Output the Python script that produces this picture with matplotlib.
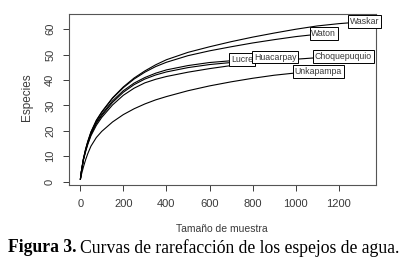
import matplotlib
matplotlib.use("Agg")
import matplotlib.pyplot as plt

# rarefaction curves: sample size vs species
waskar_n = [1, 5, 10, 15, 25, 35, 50, 75, 100, 150, 200, 250, 300, 350, 400, 500, 600, 700, 800, 900, 1000, 1100, 1200, 1320]
waskar_s = [1, 3.8, 6.5, 9.0, 12.8, 15.8, 19.6, 24.2, 27.5, 33.0, 37.3, 40.8, 43.6, 46.0, 48.0, 50.9, 53.1, 55.1, 56.9, 58.5, 60.0, 61.3, 62.2, 63.0]

waton_n = [1, 5, 10, 15, 25, 35, 50, 75, 100, 150, 200, 250, 300, 350, 400, 500, 600, 700, 800, 900, 1000, 1130]
waton_s = [1, 3.8, 6.5, 9.0, 12.7, 15.7, 19.5, 24.0, 27.3, 32.8, 37.0, 40.4, 43.1, 45.3, 47.0, 49.6, 51.5, 53.1, 54.6, 55.9, 57.1, 58.3]

lucre_n = [1, 5, 10, 15, 25, 35, 50, 75, 100, 150, 200, 250, 300, 350, 400, 500, 600, 700, 750]
lucre_s = [1, 3.7, 6.3, 8.8, 12.3, 15.3, 19.0, 23.4, 26.5, 31.8, 35.8, 38.8, 41.0, 42.7, 44.0, 45.7, 46.9, 47.6, 48.0]

huacarpay_n = [1, 5, 10, 15, 25, 35, 50, 75, 100, 150, 200, 250, 300, 350, 400, 500, 600, 700, 800, 905]
huacarpay_s = [1, 3.7, 6.2, 8.7, 12.1, 15.0, 18.6, 22.9, 26.0, 31.2, 35.2, 38.2, 40.4, 42.0, 43.2, 44.9, 46.1, 46.9, 47.5, 49.0]

choque_n = [1, 5, 10, 15, 25, 35, 50, 75, 100, 150, 200, 250, 300, 350, 400, 500, 600, 700, 800, 900, 1000, 1100, 1220]
choque_s = [1, 3.6, 6.0, 8.5, 11.8, 14.6, 18.1, 22.2, 25.3, 30.2, 34.0, 36.8, 38.9, 40.3, 41.4, 43.1, 44.5, 45.7, 46.7, 47.5, 48.2, 48.8, 49.3]

unka_n = [1, 5, 10, 15, 25, 35, 50, 75, 100, 150, 200, 250, 300, 350, 400, 500, 600, 700, 800, 900, 1000, 1105]
unka_s = [1, 2.6, 4.2, 5.8, 8.6, 11.0, 14.0, 17.4, 19.8, 23.5, 26.4, 28.7, 30.6, 32.2, 33.5, 35.8, 37.7, 39.3, 40.7, 41.9, 42.8, 43.4]

sites = ["Waskar", "Waton", "Lucre", "Huacarpay", "Choquepuquio", "Unkapampa"]
curves = [(waskar_n, waskar_s), (waton_n, waton_s), (lucre_n, lucre_s),
          (huacarpay_n, huacarpay_s), (choque_n, choque_s), (unka_n, unka_s)]

grey = "#3a3a3a"
fig = plt.figure(figsize=(4.02, 2.63), dpi=100)
ax = fig.add_axes([0.1716, 0.2966, 0.7637, 0.6502])

for (n, s) in curves:
    ax.plot(n, s, color="black", lw=0.8)

# labels at the end of each curve, boxed like R's boxed.labels
for name, (n, s) in zip(sites, curves):
    ax.text(n[-1], s[-1], name, fontsize=6.3, family="Liberation Sans", color=grey,
            ha="center", va="center", clip_on=False, zorder=5,
            bbox=dict(boxstyle="square,pad=0.2", fc="white", ec="black", lw=0.7))

ax.set_xlim(-52, 1372)
ax.set_ylim(-1.3, 66)
ax.set_xticks([0, 200, 400, 600, 800, 1000, 1200])
ax.set_yticks([0, 10, 20, 30, 40, 50, 60])
ax.tick_params(labelsize=8, colors=grey, length=4, width=0.7, pad=6)
for lab in ax.get_yticklabels():
    lab.set_rotation(90)
    lab.set_va("center")
for lab in ax.get_xticklabels() + ax.get_yticklabels():
    lab.set_family("Liberation Sans")
for sp in ax.spines.values():
    sp.set_color("#555555")
    sp.set_linewidth(0.8)

fig.text(222 / 402, 1 - 229 / 263, "Tamaño de muestra", fontsize=7.5, family="Liberation Sans",
         color=grey, ha="center", va="center")
fig.text(27 / 402, 1 - 97 / 263, "Especies", fontsize=8.5, family="Liberation Sans",
         color=grey, ha="center", va="center", rotation=90)

# caption with bold "Figura 3."
fig.canvas.draw()
r = fig.canvas.get_renderer()
t1 = fig.text(8 / 402, 1 - 248 / 263, "Figura 3.", fontsize=12.7, family="Liberation Serif",
              weight="bold", ha="left", va="center")
bb = t1.get_window_extent(renderer=r)
x2 = (bb.x1 + 3) / fig.bbox.width
fig.text(x2, 1 - 248 / 263, "Curvas de rarefacción de los espejos de agua.", fontsize=12.7,
         family="Liberation Serif", ha="left", va="center")

fig.savefig("out.png", dpi=100)
